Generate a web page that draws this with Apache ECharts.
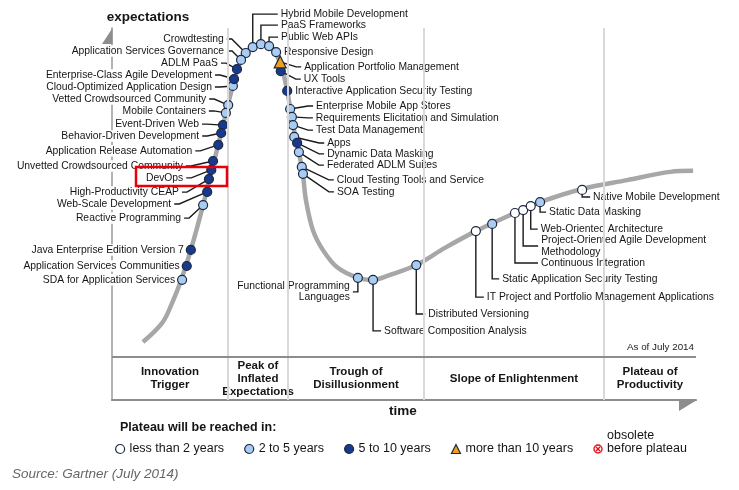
<!DOCTYPE html>
<html><head><meta charset="utf-8">
<script src="https://cdn.jsdelivr.net/npm/echarts@6/dist/echarts.min.js"></script>
<style>html,body{margin:0;padding:0;background:#fff}#main{width:739px;height:490px}</style>
</head><body><div id="main"></div>
<script>
// ---------- data ----------
const technologies = [
  'Crowdtesting', 'Application Services Governance', 'ADLM PaaS', 'Enterprise-Class Agile Development',
  'Cloud-Optimized Application Design', 'Vetted Crowdsourced Community', 'Mobile Containers', 'Event-Driven Web',
  'Behavior-Driven Development', 'Application Release Automation', 'Unvetted Crowdsourced Community', 'DevOps',
  'High-Productivity CEAP', 'Web-Scale Development', 'Reactive Programming', 'Java Enterprise Edition Version 7',
  'Application Services Communities', 'SDA for Application Services', 'Hybrid Mobile Development', 'PaaS Frameworks',
  'Public Web APIs', 'Responsive Design', 'Application Portfolio Management', 'UX Tools',
  'Interactive Application Security Testing', 'Enterprise Mobile App Stores', 'Requirements Elicitation and Simulation',
  'Test Data Management', 'Apps', 'Dynamic Data Masking', 'Federated ADLM Suites', 'Cloud Testing Tools and Service',
  'SOA Testing', 'Functional Programming\nLanguages', 'Software Composition Analysis', 'Distributed Versioning',
  'IT Project and Portfolio Management Applications', 'Static Application Security Testing', 'Continuous Integration',
  'Project-Oriented Agile Development\nMethodology', 'Web-Oriented Architecture', 'Static Data Masking',
  'Native Mobile Development'
];
const timePosition = [22.9, 22.1, 21.4, 20.9, 20.7, 19.9, 19.5, 19.0, 18.7, 18.2,
  17.3, 17.0, 16.6, 16.3, 15.6, 13.5, 12.8, 12.0, 24.1, 25.5,
  26.9, 28.1, 28.8, 28.9, 30.0, 30.5, 30.8, 31.0, 31.2, 31.7,
  32.0, 32.5, 32.7, 42.1, 44.7, 52.1, 62.3, 65.1, 69.0, 70.4,
  71.7, 73.3, 80.5];
const expectationLevel = [92.4, 90.3, 87.5, 84.5, 82.4, 76.6, 74.2, 70.5, 68.1, 64.5,
  59.6, 56.9, 54.1, 50.2, 46.2, 32.6, 27.7, 23.5, 94.2, 95.1,
  94.5, 92.7, 89.7, 86.9, 80.9, 75.4, 73.0, 70.5, 66.9, 65.1,
  62.3, 57.8, 55.7, 24.1, 23.5, 28.0, 38.3, 40.5, 43.8, 44.7,
  45.9, 47.1, 50.8];
// 0: <2 years, 1: 2-5 years, 2: 5-10 years, 3: >10 years
const plateauYears = [1,1,2,2,1,1,1,2,2,2, 2,2,2,2,1,2,2,1,1,1, 1,1,3,2,2,1,1,1,1,2, 1,1,1,1,1,1,0,1,0,0, 0,1,0];
const legendNames = ['less than 2 years', '2 to 5 years', '5 to 10 years', 'more than 10 years'];

const curveTime = [5.3, 8.6, 10.3, 11.8, 13.5, 15.6, 17.0, 18.2, 19.5, 20.7,
  22.1, 23.6, 25.5, 27.4, 28.9, 30.0, 31.0, 32.0, 32.7, 33.2,
  34.4, 36.1, 38.5, 42.1, 44.7, 47.6, 52.1, 57.0, 62.3, 68.2,
  73.3, 80.5, 88.2, 95.6, 99.5];
const curveExpectation = [4.6, 10.4, 16.5, 23.2, 32.6, 46.2, 56.3, 64.5, 74.2, 82.4,
  90.3, 93.6, 95.1, 93.9, 88.8, 80.9, 70.5, 62.3, 55.4, 47.8,
  38.6, 32.6, 27.4, 24.1, 23.5, 25.0, 28.0, 33.2, 38.3, 43.2,
  47.1, 51.1, 53.8, 56.3, 56.6];

const phaseNames = ['Innovation\nTrigger', 'Peak of\nInflated\nExpectations', 'Trough of\nDisillusionment',
  'Slope of Enlightenment', 'Plateau of\nProductivity'];
const phaseBounds = [0, 19.86, 30.14, 53.42, 84.25, 100];

// ---------- layout (label offsets in px from the marker, leader style) ----------
const labelOffsets = [
  [-21,-14,'L'],[-16,-9,'L'],[-18,-6,'L'],[-21,-4,'L'],[-20,1,'L'],[-21,-6,'L'],[-19,-2,'L'],[-23,-1,'L'],[-21,3,'L'],[-25,6,'L'],
  [-29,5,'L'],[-27,8,'L'],[-29,13,'L'],[-35,12,'L'],[-21,13,'L'],[-6,0,'NL'],[-6,0,'NL'],[-6,0,'NL'],[27,-33,'U'],[19,-19,'U'],
  [11,-9,'U'],[7,0,'NR'],[23,5,'R'],[22,8,'R'],[7,0,'NR'],[25,-3,'R'],[23,1,'R'],[22,5,'R'],[32,6,'R'],[29,11,'R'],
  [27,13,'R'],[34,13,'R'],[33,18,'R'],[-7,14,'DL'],[10,51,'D'],[11,49,'D'],[10,66,'D'],[9,55,'D'],[25,50,'D'],[17,36,'D'],
  [9,23,'D'],[8,10,'D'],[10,7,'D']
];

const FONT = "'Liberation Sans', Arial, Helvetica, sans-serif";
const classStyle = [
  { color: '#ffffff', symbol: 'circle', size: 9 },
  { color: '#a9cdf2', symbol: 'circle', size: 9 },
  { color: '#173a8c', symbol: 'circle', size: 9 },
  { color: '#f2a01c', symbol: 'triangle', size: 12 }
];
const BORDER = '#1d2740';

function renderLabel(params, api) {
  const i = api.value(2);
  const p = api.coord([api.value(0), api.value(1)]);
  const o = labelOffsets[i];
  const ax = p[0] + o[0], ay = p[1] + o[1], t = o[2];
  let pts = null;
  if (t === 'L') pts = [[ax + 2, ay], [ax + 7, ay], p];
  else if (t === 'R') pts = [p, [ax - 7, ay], [ax - 2, ay]];
  else if (t === 'U' || t === 'D') pts = [p, [p[0], ay], [ax - 2, ay]];
  else if (t === 'DL') pts = [p, [p[0], ay], [ax + 2, ay]];
  const right = (t === 'L' || t === 'NL' || t === 'DL');
  const children = [];
  if (pts) children.push({ type: 'polyline', shape: { points: pts },
    style: { stroke: '#1a1a1a', lineWidth: 1.4, fill: 'none' } });
  children.push({ type: 'text', x: ax, y: ay, style: {
    text: technologies[i], fill: '#151515', fontSize: 10.35, fontFamily: FONT,
    align: right ? 'right' : 'left', verticalAlign: 'middle',
    textAlign: right ? 'right' : 'left', textVerticalAlign: 'middle',
    lineHeight: 11.5, backgroundColor: '#fff', padding: [0, 1] } });
  return { type: 'group', children };
}

const chart = echarts.init(document.getElementById('main'), null, { renderer: 'canvas' });

const scatterSeries = legendNames.map((name, k) => ({
  name, type: 'scatter', z: 4, silent: true,
  symbol: classStyle[k].symbol, symbolSize: classStyle[k].size,
  itemStyle: { color: classStyle[k].color, borderColor: BORDER, borderWidth: 1.2, opacity: 1 },
  data: technologies.map((n, i) => i).filter(i => plateauYears[i] === k)
    .map(i => [timePosition[i], expectationLevel[i]])
}));

const gridLineData = phaseBounds.slice(1, -1).map(b => ({ xAxis: b }));
gridLineData.push({ yAxis: 0, lineStyle: { color: '#8d8d8d', width: 2, type: 'solid' } });

const option = {
  animation: false,
  backgroundColor: '#fff',
  grid: { left: 112, right: 43, top: 28, bottom: 90 },
  xAxis: { type: 'value', min: 0, max: 100,
    axisLine: { show: true, onZero: false, lineStyle: { color: '#8d8d8d', width: 2 } },
    axisTick: { show: false }, axisLabel: { show: false }, splitLine: { show: false } },
  yAxis: { type: 'value', min: -13, max: 100,
    axisLine: { show: true, lineStyle: { color: '#9a9a9a', width: 1.5 } },
    axisTick: { show: false }, axisLabel: { show: false }, splitLine: { show: false } },
  legend: {
    left: 110, top: 437, itemWidth: 9, itemHeight: 9, itemGap: 20, selectedMode: false,
    textStyle: { fontSize: 12.5, color: '#151515', fontFamily: FONT, lineHeight: 14 },
    data: legendNames.map((n, k) => ({ name: n, icon: classStyle[k].symbol,
      itemStyle: { color: classStyle[k].color, borderColor: BORDER, borderWidth: 1.2 } }))
  },
  series: [
    { type: 'line', z: 1, silent: true, data: [], symbol: 'none',
      markLine: { silent: true, symbol: ['none', 'none'], label: { show: false },
        lineStyle: { color: '#d9d9d9', width: 2, type: 'solid' }, data: gridLineData },
      markArea: { silent: true, itemStyle: { color: 'rgba(0,0,0,0)' },
        label: { show: true, position: 'inside', fontSize: 11.5, fontWeight: 'bold', color: '#151515',
          fontFamily: FONT, lineHeight: 13 },
        data: phaseNames.map((n, k) => [{ name: n, xAxis: phaseBounds[k], yAxis: -13 },
          { xAxis: phaseBounds[k + 1], yAxis: 0 }]) } },
    { type: 'line', z: 2, silent: true, smooth: 0.35, symbol: 'none',
      lineStyle: { color: '#a7a7a7', width: 4.5 },
      data: curveTime.map((t, i) => [t, curveExpectation[i]]) },
    { type: 'custom', z: 3, silent: true, clip: false, renderItem: renderLabel,
      encode: { x: 0, y: 1 },
      data: technologies.map((n, i) => [timePosition[i], expectationLevel[i], i]) },
    ...scatterSeries
  ],
  graphic: { elements: [
    { type: 'polygon', shape: { points: [[112.5, 28], [112.5, 44], [102, 44]] }, style: { fill: '#8d8d8d' }, z: 10 },
    { type: 'polygon', shape: { points: [[679, 400], [697, 400], [679, 411]] }, style: { fill: '#8d8d8d' }, z: 10 },
    { type: 'text', x: 148, y: 17, style: { text: 'expectations', fill: '#151515', font: 'bold 13.5px ' + FONT,
      align: 'center', verticalAlign: 'middle', textAlign: 'center', textVerticalAlign: 'middle' } },
    { type: 'text', x: 403, y: 411, style: { text: 'time', fill: '#151515', font: 'bold 13.5px ' + FONT,
      align: 'center', verticalAlign: 'middle', textAlign: 'center', textVerticalAlign: 'middle' } },
    { type: 'text', x: 694, y: 347, style: { text: 'As of July 2014', fill: '#222', font: '9.8px ' + FONT,
      align: 'right', verticalAlign: 'middle', textAlign: 'right', textVerticalAlign: 'middle' } },
    { type: 'text', x: 120, y: 428, style: { text: 'Plateau will be reached in:', fill: '#151515', font: 'bold 12.5px ' + FONT,
      align: 'left', verticalAlign: 'middle', textAlign: 'left', textVerticalAlign: 'middle' } },
    { type: 'group', x: 598, y: 449, children: [
      { type: 'circle', shape: { cx: 0, cy: 0, r: 4 }, style: { fill: '#fff', stroke: '#e3141c', lineWidth: 1.4 } },
      { type: 'line', shape: { x1: -2.2, y1: -2.2, x2: 2.2, y2: 2.2 }, style: { stroke: '#e3141c', lineWidth: 1.3 } },
      { type: 'line', shape: { x1: -2.2, y1: 2.2, x2: 2.2, y2: -2.2 }, style: { stroke: '#e3141c', lineWidth: 1.3 } }
    ] },
    { type: 'text', x: 607, y: 436, style: { text: 'obsolete', fill: '#151515', font: '12.5px ' + FONT,
      align: 'left', verticalAlign: 'middle', textAlign: 'left', textVerticalAlign: 'middle' } },
    { type: 'text', x: 607, y: 449, style: { text: 'before plateau', fill: '#151515', font: '12.5px ' + FONT,
      align: 'left', verticalAlign: 'middle', textAlign: 'left', textVerticalAlign: 'middle' } },
    { type: 'text', x: 12, y: 474, style: { text: 'Source: Gartner (July 2014)', fill: '#666', font: 'italic 13.5px ' + FONT,
      align: 'left', verticalAlign: 'middle', textAlign: 'left', textVerticalAlign: 'middle' } },
    { type: 'rect', z: 100, shape: { x: 136, y: 167, width: 91, height: 19 },
      style: { fill: 'none', stroke: '#e8000b', lineWidth: 2.5 } }
  ] }
};
chart.setOption(option);
</script></body></html>
